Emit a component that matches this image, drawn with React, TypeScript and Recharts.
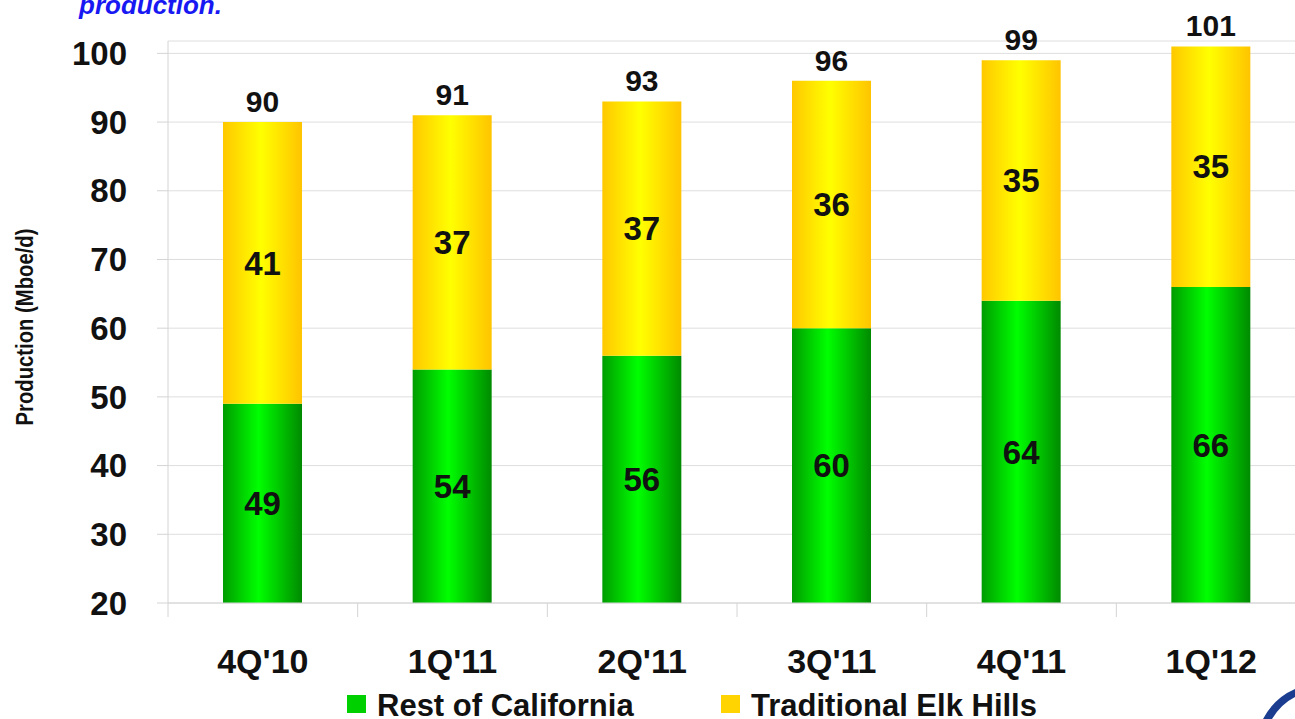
import React from "react";
import { BarChart, Bar, XAxis, YAxis, CartesianGrid, Legend, LabelList, Label } from "recharts";

// Quarterly production, Mboe/d
const quarters = ["4Q'10", "1Q'11", "2Q'11", "3Q'11", "4Q'11", "1Q'12"];
const restOfCalifornia = [49, 54, 56, 60, 64, 66];
const traditionalElkHills = [41, 37, 37, 36, 35, 35];
const yTicks = [20, 30, 40, 50, 60, 70, 80, 90, 100];

const data = quarters.map((quarter, i) => ({
  quarter,
  rest: restOfCalifornia[i],
  elk: traditionalElkHills[i],
  total: restOfCalifornia[i] + traditionalElkHills[i],
}));

const FONT = '"Liberation Sans", Arial, Helvetica, sans-serif';
const CHART_W = 1320;
const CHART_H = 719;
const MARGIN = { top: 41, right: 14, bottom: 0, left: 0 };
const Y_AXIS_W = 168;
const X_AXIS_H = 116;
const PLOT_BOTTOM = CHART_H - MARGIN.bottom - X_AXIS_H;
const BAND = (CHART_W - MARGIN.left - MARGIN.right - Y_AXIS_W) / quarters.length;
const AXIS_GRAY = "#d4d4d4";
const INK = "#111";

const LEGEND_X = [347, 721];
const SWATCH: Record<string, string> = { rest: "#00d000", elk: "#ffd400" };

// category label centred in the band, small tick mark on the band's left edge
const QuarterTick = ({ x, y, payload }: any) => (
  <g>
    <line x1={x - BAND / 2} x2={x - BAND / 2} y1={y} y2={y + 14} stroke={AXIS_GRAY} />
    <text x={x} y={y + 70} textAnchor="middle" fontSize={34} fontWeight="bold" fill={INK}>
      {payload.value}
    </text>
  </g>
);

// the green stack starts below the axis floor, so centre its label on the visible part
const VisibleCenterLabel = (props: any) => {
  const vb = props.viewBox ?? props;
  const { x, y, width, height } = vb;
  const top = Math.min(y, y + height);
  const bottom = Math.min(Math.max(y, y + height), PLOT_BOTTOM);
  return (
    <text
      x={x + width / 2}
      y={(top + bottom) / 2}
      dy="0.36em"
      textAnchor="middle"
      fontSize={33}
      fontWeight="bold"
      fill={INK}
    >
      {props.value}
    </text>
  );
};

const AxisTitle = () => (
  <text
    x={33}
    y={327}
    transform="rotate(-90 33 327)"
    textAnchor="middle"
    fontSize={23}
    fontWeight="bold"
    fill={INK}
    textLength={197}
    lengthAdjust="spacingAndGlyphs"
  >
    Production (Mboe/d)
  </text>
);

const renderLegend = ({ payload }: any) => (
  <svg width={1295} height={31} style={{ display: "block" }}>
    {(payload || []).map((entry: any, i: number) => (
      <g key={entry.value}>
        <rect x={LEGEND_X[i]} y={7} width={19} height={18} fill={SWATCH[entry.dataKey]} />
        <text x={LEGEND_X[i] + 30} y={28} fontSize={31} fontWeight="bold" fill={INK}>
          {entry.value}
        </text>
      </g>
    ))}
  </svg>
);

export default function App() {
  return (
    <div
      style={{
        position: "fixed",
        left: 0,
        top: 0,
        width: 1295,
        height: 719,
        overflow: "hidden",
        background: "#fff",
        fontFamily: FONT,
      }}
    >
      <BarChart width={CHART_W} height={CHART_H} data={data} margin={MARGIN}>
        <defs>
          <linearGradient id="greenBar" x1="0" y1="0" x2="1" y2="0">
            <stop offset="0%" stopColor="#009c00" />
            <stop offset="45%" stopColor="#00ff00" />
            <stop offset="100%" stopColor="#008a00" />
          </linearGradient>
          <linearGradient id="yellowBar" x1="0" y1="0" x2="1" y2="0">
            <stop offset="0%" stopColor="#ffc800" />
            <stop offset="48%" stopColor="#ffff00" />
            <stop offset="100%" stopColor="#ffc400" />
          </linearGradient>
        </defs>
        <CartesianGrid vertical={false} stroke="#dedede" />
        <XAxis
          dataKey="quarter"
          height={X_AXIS_H}
          interval={0}
          tickSize={0}
          tickMargin={0}
          tickLine={false}
          axisLine={{ stroke: AXIS_GRAY }}
          tick={(p: any) => <QuarterTick {...p} />}
        />
        <YAxis
          type="number"
          domain={[20, 101.8]}
          allowDataOverflow
          ticks={yTicks}
          interval={0}
          width={Y_AXIS_W}
          tickSize={11}
          tickMargin={30}
          axisLine={{ stroke: AXIS_GRAY }}
          tickLine={{ stroke: AXIS_GRAY }}
          tick={{ fontSize: 33, fontWeight: "bold", fill: INK }}
          label={<Label content={<AxisTitle />} />}
        />
        <Legend
          verticalAlign="middle"
          align="center"
          layout="horizontal"
          wrapperStyle={{ top: 688, left: 0, width: 1295, height: 31 }}
          content={renderLegend}
        />
        <Bar
          dataKey="rest"
          name="Rest of California"
          stackId="q"
          barSize={79}
          fill="url(#greenBar)"
          isAnimationActive={false}
        >
          <LabelList dataKey="rest" content={<VisibleCenterLabel />} />
        </Bar>
        <Bar
          dataKey="elk"
          name="Traditional Elk Hills"
          stackId="q"
          barSize={79}
          fill="url(#yellowBar)"
          isAnimationActive={false}
        >
          <LabelList dataKey="elk" position="center" fontSize={33} fontWeight="bold" fill={INK} />
          <LabelList dataKey="total" position="top" offset={10} fontSize={30} fontWeight="bold" fill={INK} />
        </Bar>
      </BarChart>
      <svg
        width={1295}
        height={719}
        style={{ position: "absolute", left: 0, top: 0, pointerEvents: "none" }}
      >
        <text x={79} y={14} fontSize={26} fontWeight="bold" fontStyle="italic" fill="#1818f2">
          production.
        </text>
        <path d="M1263 719 Q1274 698 1295 689 L1295 697 Q1281 704 1272 719 Z" fill="#1b3d8f" />
      </svg>
    </div>
  );
}
